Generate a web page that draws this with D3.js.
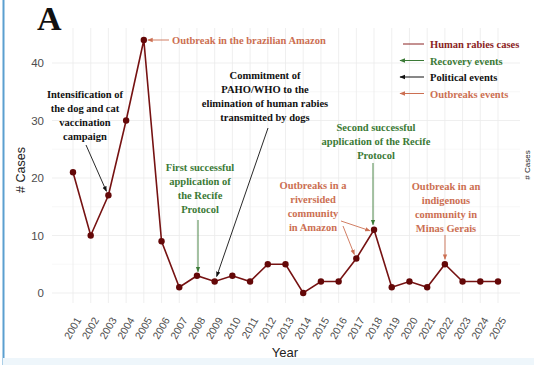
<!DOCTYPE html>
<html><head><meta charset="utf-8">
<script src="https://cdn.jsdelivr.net/npm/d3@7"></script>
<style>body{margin:0;background:#fff}svg{display:block}</style>
</head><body>
<script>
const years = [2001,2002,2003,2004,2005,2006,2007,2008,2009,2010,2011,2012,2013,2014,2015,2016,2017,2018,2019,2020,2021,2022,2023,2024,2025];
const cases = [21,10,17,30,44,9,1,3,2,3,2,5,5,0,2,2,6,11,1,2,1,5,2,2,2];
const yTicks = [0,10,20,30,40];
const legendLabels = ["Human rabies cases","Recovery events","Political events","Outbreaks events"];
const legendColors = ["#8a2323","#3b7a36","#111111","#cc6f52"];

const W=534,H=365;
const svg=d3.select("body").append("svg").attr("width",W).attr("height",H);
const x=d3.scaleLinear().domain([2001,2025]).range([73,498]);
const y=d3.scaleLinear().domain([0,44]).range([293,40]);
const C={line:"#761212",green:"#3b7a36",black:"#111",salmon:"#cc6f52"};

const defs=svg.append("defs");
Object.entries({g:C.green,k:C.black,s:C.salmon}).forEach(([k,c])=>{
  defs.append("marker").attr("id","ar"+k).attr("viewBox","0 0 10 10").attr("refX",9).attr("refY",5)
   .attr("markerWidth",6).attr("markerHeight",6).attr("orient","auto-start-reverse")
   .append("path").attr("d","M0,1 L10,5 L0,9 z").attr("fill",c);
});

// border
svg.append("line").attr("x1",3.5).attr("x2",3.5).attr("y1",0).attr("y2",H).attr("stroke","#5b9fd0").attr("stroke-width",2);
svg.append("rect").attr("x",3).attr("y",358).attr("width",W).attr("height",7).attr("fill","#eef6fb");

// grid
const g=svg.append("g");
const minor=[5,15,25,35];
minor.forEach(v=>g.append("line").attr("x1",52).attr("x2",520).attr("y1",y(v)).attr("y2",y(v)).attr("stroke","#f3f3f3").attr("stroke-width",0.6));
years.forEach(v=>g.append("line").attr("x1",x(v)).attr("x2",x(v)).attr("y1",28).attr("y2",303).attr("stroke","#ebebeb").attr("stroke-width",0.8));
yTicks.forEach(v=>g.append("line").attr("x1",52).attr("x2",520).attr("y1",y(v)).attr("y2",y(v)).attr("stroke","#ebebeb").attr("stroke-width",0.8));

// axes
const ya=svg.append("g").attr("transform","translate(52,0)").call(d3.axisLeft(y).tickValues(yTicks).tickSize(0).tickPadding(8));
ya.select(".domain").remove();
ya.selectAll("text").attr("font-family","Liberation Sans, Arial, sans-serif").attr("font-size",11.5).attr("fill","#4d4d4d");
const xa=svg.append("g").attr("transform","translate(0,303)").call(d3.axisBottom(x).tickValues(years).tickFormat(d3.format("d")).tickSize(0));
xa.select(".domain").remove();
xa.selectAll("text").attr("font-family","Liberation Sans, Arial, sans-serif").attr("font-size",10.5).attr("fill","#4d4d4d")
  .attr("text-anchor","end").attr("y",0).attr("dy","0.35em").attr("transform","translate(5,15) rotate(-60)");

svg.append("text").attr("x",285).attr("y",357).attr("text-anchor","middle").attr("font-family","Liberation Sans, Arial, sans-serif").attr("font-size",13).attr("fill","#222").text("Year");
svg.append("text").attr("transform","translate(25,170) rotate(-90)").attr("text-anchor","middle").attr("font-family","Liberation Sans, Arial, sans-serif").attr("font-size",12.5).attr("fill","#222").text("# Cases");
svg.append("text").attr("transform","translate(530,165) rotate(-90)").attr("text-anchor","middle").attr("font-family","Liberation Sans, Arial, sans-serif").attr("font-size",8).attr("fill","#222").text("# Cases");

svg.append("text").attr("x",37).attr("y",30).attr("font-family","Liberation Serif, serif").attr("font-weight","bold").attr("font-size",34).attr("fill","#111").text("A");

// line + points
svg.append("path").datum(years.map((v,i)=>[v,cases[i]])).attr("fill","none").attr("stroke",C.line).attr("stroke-width",1.6)
  .attr("d",d3.line().x(d=>x(d[0])).y(d=>y(d[1])));
svg.selectAll("circle.p").data(years.map((v,i)=>[v,cases[i]])).enter().append("circle")
  .attr("cx",d=>x(d[0])).attr("cy",d=>y(d[1])).attr("r",3.2).attr("fill","#640808");

// annotations
function label(lines,cx,y0,color,anchor){
  const t=svg.append("text").attr("font-family","Liberation Serif, serif").attr("font-weight","bold").attr("font-size",10.5)
    .attr("fill",color).attr("text-anchor",anchor||"middle");
  lines.forEach((l,i)=>t.append("tspan").attr("x",cx).attr("y",y0+i*14).text(l));
}
function arrow(x1,y1,x2,y2,color,m){
  svg.append("line").attr("x1",x1).attr("y1",y1).attr("x2",x2).attr("y2",y2).attr("stroke",color).attr("stroke-width",0.9).attr("marker-end","url(#ar"+m+")");
}
const px=(yr)=>x(yr), py=(yr)=>y(cases[years.indexOf(yr)]);

label(["Outbreak in the brazilian Amazon"],172,44,C.salmon,"start");
arrow(169,40,px(2005)+4,py(2005),C.salmon,"s");

label(["Intensification of","the dog and cat","vaccination","campaign"],85,98,C.black);
arrow(86,145,px(2003)-2,py(2003)-4,C.black,"k");

label(["Commitment of","PAHO/WHO to the","elimination of human rabies","transmitted by dogs"],265,79,C.black);
arrow(268,128,px(2009)+2,py(2009)-5,C.black,"k");

label(["First successful","application of","the Recife","Protocol"],200,171,C.green);
arrow(198,220,198,py(2008)-4,C.green,"g");

label(["Second successful","application of the Recife","Protocol"],376,131,C.green);
arrow(373,163,373,py(2018)-5,C.green,"g");

label(["Outbreaks in a","riversided","community","in Amazon"],313,189,C.salmon);
arrow(341,221,px(2018)-4,py(2018)+1,C.salmon,"s");
arrow(343,226,px(2017)-2,py(2017)-4,C.salmon,"s");

label(["Outbreak in an","indigenous","community in","Minas Gerais"],446,190,C.salmon);
arrow(445,235,445,py(2022)-5,C.salmon,"s");

// legend
const lg=svg.append("g");
legendLabels.forEach((l,i)=>{
  const yy=44+i*16.5;
  const ln=lg.append("line").attr("x1",403).attr("x2",424).attr("y1",yy).attr("y2",yy).attr("stroke-width",1).attr("stroke",i==0?"#8a2323":legendColors[i]);
  if(i>0){ln.attr("x1",424).attr("x2",400).attr("marker-end","url(#ar"+["","g","k","s"][i]+")");}
  lg.append("text").attr("x",430).attr("y",yy+4).attr("font-family","Liberation Serif, serif").attr("font-weight","bold").attr("font-size",10.5).attr("fill",legendColors[i]).text(l);
});
</script>
</body></html>
